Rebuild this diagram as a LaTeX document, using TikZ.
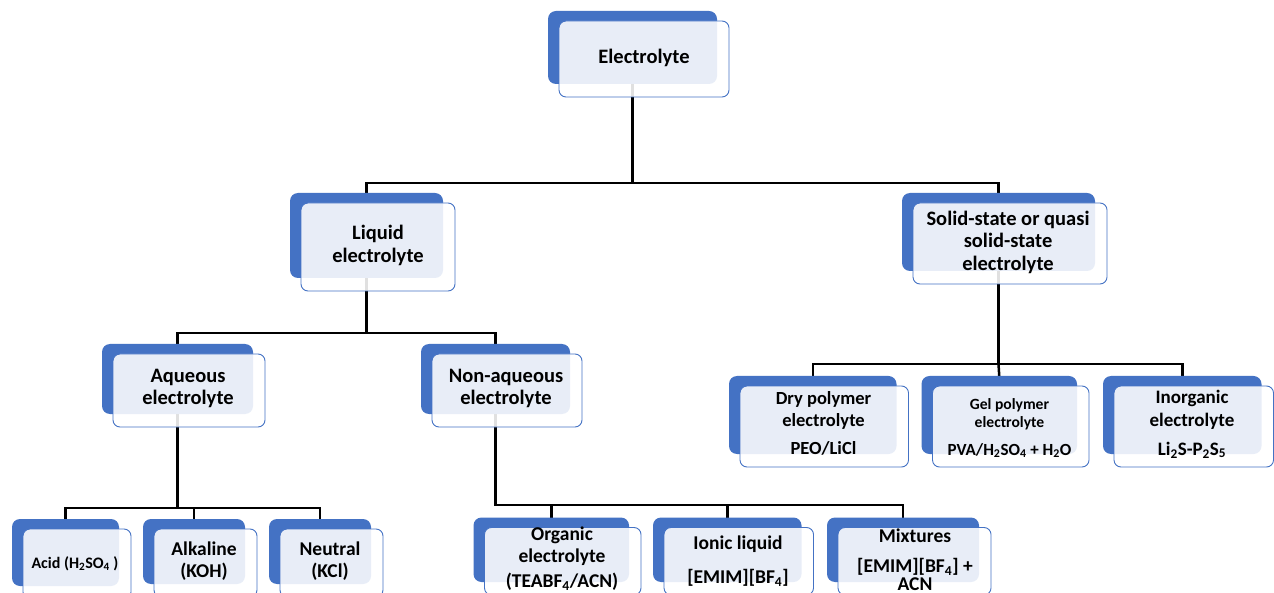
\documentclass[tikz,border=0pt]{standalone}
\usepackage{fontspec}
\setmainfont{Carlito}
\usetikzlibrary{backgrounds}
\definecolor{oblue}{HTML}{4472C4}
\newcommand\fsz[2]{\fontsize{#1}{#2}\selectfont\bfseries}
% \ebox{name}{x1}{y1}{x2}{y2}: back box corners; front box offset
\newcommand\ebox[5]{%
  \node[backbox, minimum width={#4-#2}, minimum height={#5-#3}] (#1B) at ({(#2+#4)/2},{(#3+#5)/2}) {};
  \node[frontbox, minimum width={#4-#2+1}, minimum height={#5-#3+3}] (#1F) at ({(#2+#4)/2+11.5},{(#3+#5)/2+11.5}) {};
}
\tikzset{
  backbox/.style={rectangle, rounded corners=8pt, fill=oblue, draw=none, inner sep=0pt, outer sep=0pt},
  frontbox/.style={rectangle, rounded corners=7pt, fill=white, fill opacity=0.88, draw=oblue, line width=0.9pt, inner sep=0pt, outer sep=0pt},
  txt/.style={align=center, inner sep=0pt, outer sep=0pt, text=black},
  conn/.style={line width=2.5pt, draw=black},
}
\begin{document}
\begin{tikzpicture}[x=1pt, y=-1pt]
\useasboundingbox (0,0) rectangle (1274,593);
\begin{scope}
\clip (0,0) rectangle (1274,593);
% level 0
\ebox{elec}{548}{11}{717}{84}
% level 1
\ebox{liq}{290}{193}{443}{278}
\ebox{sol}{902}{193}{1095}{271}
% level 2
\ebox{aq}{102}{344}{253}{414}
\ebox{naq}{421}{344}{570}{414}
\ebox{dry}{729}{376}{896.5}{454}
\ebox{gel}{921.5}{376}{1077}{454}
\ebox{ino}{1103}{376}{1261.5}{454}
% level 3
\ebox{acid}{12}{519}{119}{586}
\ebox{alk}{143}{519}{245}{584}
\ebox{neu}{269}{519}{371}{584}
\ebox{org}{473.5}{517.5}{629}{582}
\ebox{ion}{653}{517.5}{801.5}{582}
\ebox{mix}{827}{517.5}{979}{582}
\end{scope}
% texts
\node[txt, font=\fsz{20.5}{22.5}] (elecT) at (644,57.5) {Electrolyte};
\node[txt, font=\fsz{20.5}{22.5}] (liqT) at (378,245.5) {Liquid\\electrolyte};
\node[txt, font=\fsz{20.5}{22.5}] (solT) at (1008,242) {Solid-state or quasi\\solid-state\\electrolyte};
\node[txt, font=\fsz{20.5}{22.5}] (aqT) at (188,388.5) {Aqueous\\electrolyte};
\node[txt, font=\fsz{20.5}{22.5}] (naqT) at (506,388.5) {Non-aqueous\\electrolyte};
\node[txt, font=\fsz{18.5}{21.3}] (dryT) at (823.5,410.5) {Dry polymer\\electrolyte};
\node[txt, font=\fsz{18.5}{21.3}] (dryS) at (823.5,448) {PEO/LiCl};
\node[txt, font=\fsz{15.6}{17.8}] (gelT) at (1009.5,414.5) {Gel polymer\\electrolyte};
\node[txt, font=\fsz{17}{20}] (gelS) at (1009.5,450.5) {PVA/H\textsubscript{2}SO\textsubscript{4} + H\textsubscript{2}O};
\node[txt, font=\fsz{19}{23}] (inoT) at (1192,410) {Inorganic\\electrolyte};
\node[txt, font=\fsz{19}{23}] (inoS) at (1192,450) {Li\textsubscript{2}S-P\textsubscript{2}S\textsubscript{5}};
\node[txt, font=\fsz{16}{19}] (acidT) at (75,563.5) {Acid (H\textsubscript{2}SO\textsubscript{4} )};
\node[txt, font=\fsz{19.5}{22}] (alkT) at (204,561.5) {Alkaline\\(KOH)};
\node[txt, font=\fsz{19.5}{22}] (neuT) at (330,561.5) {Neutral\\(KCl)};
\node[txt, font=\fsz{19.5}{21.5}] (orgT) at (562,546) {Organic\\electrolyte};
\node[txt, font=\fsz{19.5}{21.5}] (orgS) at (562,582) {(TEABF\textsubscript{4}/ACN)};
\node[txt, font=\fsz{19.5}{21.5}] (ionT) at (738,544.5) {Ionic liquid};
\node[txt, font=\fsz{19.5}{21.5}] (ionS) at (738,577.5) {[EMIM][BF\textsubscript{4}]};
\node[txt, font=\fsz{19.5}{21.5}] (mixT) at (915,535.5) {Mixtures};
\node[txt, font=\fsz{19.5}{18}] (mixS) at (915,574.5) {[EMIM][BF\textsubscript{4}] +\\ACN};
% connectors behind everything
\begin{scope}[on background layer]
\fill[white] (0,0) rectangle (1274,593);
\coordinate (bus1) at (0,183);
\coordinate (bus2) at (0,333);
\coordinate (bus3) at (0,364);
\coordinate (bus4) at (0,508);
\coordinate (bus5) at (0,505);
\draw[conn] (elecB.center) -- (elecB.center |- bus1) -| (liqB.north);
\draw[conn] (elecB.center |- bus1) -| (solB.north);
\draw[conn] (liqB.center) -- (liqB.center |- bus2) -| (aqB.north);
\draw[conn] (liqB.center |- bus2) -| (naqB.north);
\draw[conn] (solB.center) -- (solB.center |- bus3) -| (dryB.north);
\draw[conn] (solB.center |- bus3) -| (inoB.north);
\draw[conn] (solB.center |- bus3) -- (gelB.north);
\draw[conn] (aqB.center) -- (aqB.center |- bus4) -| (acidB.north);
\draw[conn] (aqB.center |- bus4) -| (neuB.north);
\draw[conn] (alkB.north |- bus4) -- (alkB.north);
\draw[conn] (naqB.center) -- (naqB.center |- bus5) -| (mixB.north);
\draw[conn] (orgB.north |- bus5) -- (orgB.north);
\draw[conn] (ionB.north |- bus5) -- (ionB.north);
\end{scope}
\end{tikzpicture}
\end{document}
